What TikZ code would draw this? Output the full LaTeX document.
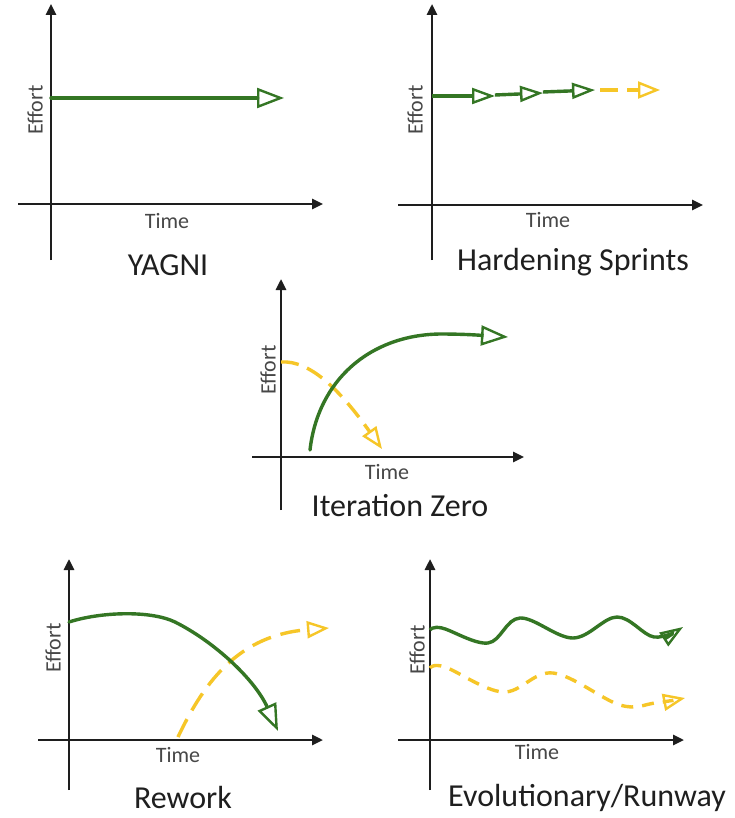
\documentclass[tikz,border=0pt]{standalone}
\usepackage{fontspec}
\setmainfont{Carlito}
\usetikzlibrary{arrows.meta}
\definecolor{gr}{RGB}{52,118,36}
\definecolor{yl}{RGB}{246,198,40}
\definecolor{ax}{RGB}{30,30,30}
\tikzset{
  axis/.style={draw=ax,line width=2.6pt,-{Triangle[length=11pt,width=10pt]}},
  gline/.style={draw=gr,line width=3.4pt,line cap=round,-{Triangle[open,length=27pt,width=20pt,line width=2.4pt]}},
  gsmall/.style={draw=gr,line width=3.4pt,-{Triangle[open,length=23pt,width=16pt,line width=2.4pt]}},
  yline/.style={draw=yl,line width=3.4pt,dash pattern=on 18pt off 9pt,-{Triangle[open,length=22pt,width=17pt,line width=2.4pt]}},
  axlab/.style={text=black!72,font=\fontsize{22}{22}\selectfont,inner sep=0pt},
  title/.style={text=black!88,font=\fontsize{32}{32}\selectfont,inner sep=0pt},
}
\begin{document}
\begin{tikzpicture}[x=1pt,y=-1pt]
\useasboundingbox (0,0) rectangle (735,818);
\fill[white] (0,0) rectangle (735,818);
% ---------- YAGNI
\draw[axis] (51,260) -- (51,4);
\draw[axis] (18,204) -- (323,204);
\draw[gline] (51,98) -- (284,98);
\node[axlab,rotate=90] (e1) at (35,110) {Effort};
\node[axlab] (t1) at (167,221) {Time};
\node[title] (n1) at (168,265) {YAGNI};
% ---------- Hardening Sprints
\draw[axis] (432,260) -- (432,4);
\draw[axis] (398,205) -- (703,205);
\draw[gsmall] (432,96) -- (495,96);
\draw[gsmall] (495,95) -- (543,93);
\draw[gsmall] (543,92) -- (595,90);
\draw[yline] (600,90) -- (660,90);
\node[axlab,rotate=90] (e2) at (415,110) {Effort};
\node[axlab] (t2) at (548,220) {Time};
\node[title] (n2) at (573,262) {Hardening Sprints};
% ---------- Iteration Zero
\draw[axis] (281,510) -- (281,279);
\draw[axis] (252,457) -- (524,457);
\draw[yline] (281,362) .. controls (310,360) and (340,390) .. (382,449);
\draw[gline] (310,450) .. controls (318,380) and (370,335) .. (440,334) .. controls (470,334) and (490,336) .. (508,337);
\node[axlab,rotate=90] (e3) at (268,370) {Effort};
\node[axlab] (t3) at (387,472) {Time};
\node[title] (n3) at (400,506) {Iteration Zero};
% ---------- Rework
\draw[axis] (69,790) -- (69,559);
\draw[axis] (38,740) -- (323,740);
\draw[yline,dash pattern=on 20pt off 10pt] (178,737) .. controls (205,680) and (240,635) .. (329,628);
\draw[gline] (69,622) .. controls (100,612) and (150,610) .. (175,622) .. controls (215,642) and (255,680) .. (278,731);
\node[axlab,rotate=90] (e4) at (53,648) {Effort};
\node[axlab] (t4) at (178,755) {Time};
\node[title] (n4) at (183,797) {Rework};
% ---------- Evolutionary/Runway
\draw[axis] (430,790) -- (430,559);
\draw[axis] (398,740) -- (684,740);
\draw[gsmall] plot[smooth,tension=0.6] coordinates {(430,630) (442,628) (488,643) (520,618) (573,638) (617,617) (654,637) (683,627)};
\draw[yline,dash pattern=on 12pt off 9pt] plot[smooth,tension=0.6] coordinates {(430,668) (445,667) (503,692) (553,673) (620,705) (655,703) (685,698)};
\node[axlab,rotate=90] (e5) at (417,650) {Effort};
\node[axlab] (t5) at (537,752) {Time};
\node[title] (n5) at (587,798) {Evolutionary/Runway};
\end{tikzpicture}
\end{document}
